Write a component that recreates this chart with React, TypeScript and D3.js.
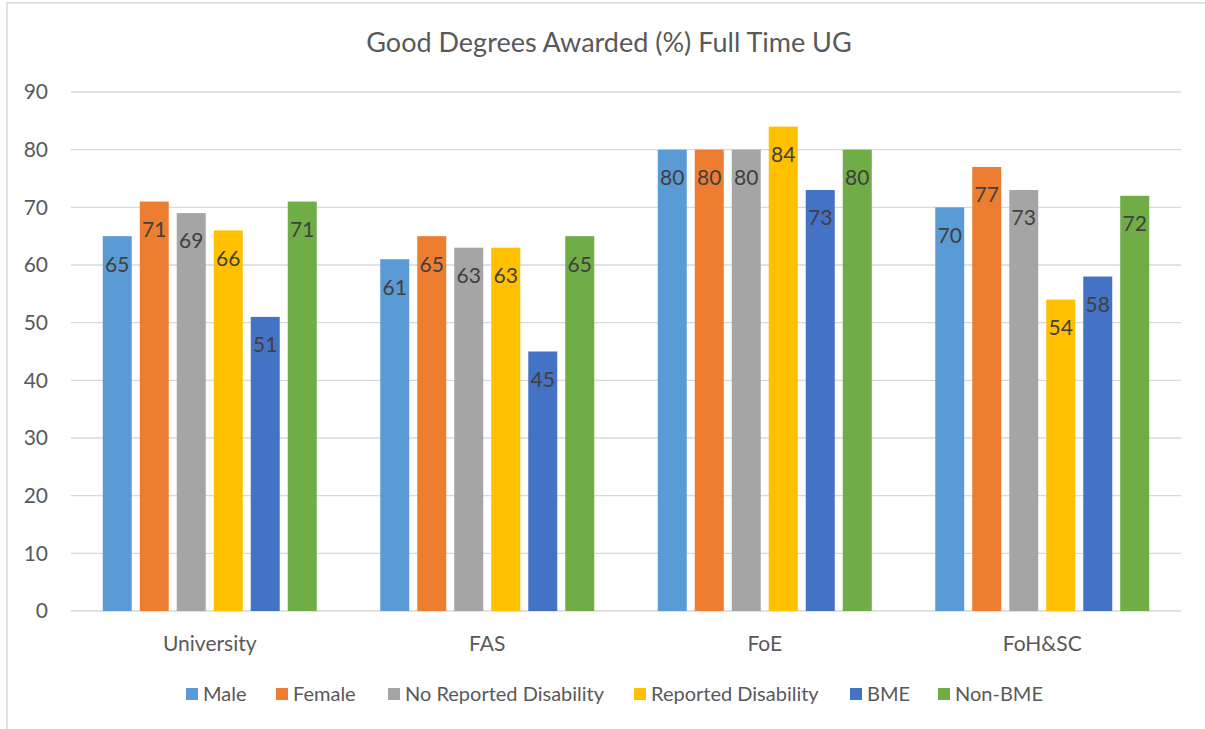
import React from "react";
import * as d3 from "d3";

const categories = ["University", "FAS", "FoE", "FoH&SC"];
const seriesNames = ["Male", "Female", "No Reported Disability", "Reported Disability", "BME", "Non-BME"];
const seriesColors = ["#5B9BD5", "#ED7D31", "#A5A5A5", "#FFC000", "#4472C4", "#70AD47"];
const maleValues = [65, 61, 80, 70];
const femaleValues = [71, 65, 80, 77];
const noDisabilityValues = [69, 63, 80, 73];
const disabilityValues = [66, 63, 84, 54];
const bmeValues = [51, 45, 73, 58];
const nonBmeValues = [71, 65, 80, 72];
const yTicks = [0, 10, 20, 30, 40, 50, 60, 70, 80, 90];
const legendX = [186, 276, 388, 634, 850, 938];

const allValues = [maleValues, femaleValues, noDisabilityValues, disabilityValues, bmeValues, nonBmeValues];

const FONT = "Lato, 'Open Sans', sans-serif";

const App = () => {
  const width = 1205;
  const height = 729;
  const plot = { left: 71, right: 1181, top: 92, bottom: 611 };

  const x0 = d3.scaleBand().domain(categories).range([plot.left, plot.right]).padding(0);
  const bw = x0.bandwidth();
  const outer = (bw - 214) / 2;
  const x1 = d3
    .scaleBand()
    .domain(seriesNames)
    .range([outer, bw - outer])
    .paddingInner(8 / 37)
    .paddingOuter(0);
  const y = d3.scaleLinear().domain([0, 90]).range([plot.bottom, plot.top]);

  return (
    <svg
      width={width}
      height={height}
      style={{ position: "absolute", left: 0, top: 0, background: "#fff" }}
    >
      <rect x={7} y={3} width={width} height={height} fill="#fff" stroke="#d9d9d9" strokeWidth={1.5} />
      <text
        x={609}
        y={52}
        textAnchor="middle"
        fontFamily={FONT}
        fontSize={27}
        fill="#595959"
      >
        Good Degrees Awarded (%) Full Time UG
      </text>

      {yTicks.map((t) => (
        <g key={t}>
          <line x1={plot.left} x2={plot.right} y1={y(t)} y2={y(t)} stroke="#d9d9d9" strokeWidth={1.3} />
          <text
            x={48}
            y={y(t)}
            dy="0.35em"
            textAnchor="end"
            fontFamily={FONT}
            fontSize={21}
            fill="#595959"
          >
            {t}
          </text>
        </g>
      ))}

      {categories.map((c, ci) => (
        <g key={c} transform={`translate(${x0(c)},0)`}>
          {seriesNames.map((s, si) => {
            const v = allValues[si][ci];
            const bx = x1(s) as number;
            return (
              <g key={s}>
                <rect
                  x={bx}
                  y={y(v)}
                  width={x1.bandwidth()}
                  height={y(0) - y(v)}
                  fill={seriesColors[si]}
                />
                <text
                  x={bx + x1.bandwidth() / 2}
                  y={y(v) + 28}
                  dy="0.35em"
                  textAnchor="middle"
                  fontFamily={FONT}
                  fontSize={21}
                  fill="#404040"
                >
                  {v}
                </text>
              </g>
            );
          })}
          <text
            x={bw / 2}
            y={644}
            dy="0.35em"
            textAnchor="middle"
            fontFamily={FONT}
            fontSize={21}
            fill="#595959"
          >
            {c}
          </text>
        </g>
      ))}

      {seriesNames.map((s, si) => (
        <g key={s} transform={`translate(${legendX[si]},694)`}>
          <rect x={0} y={-6} width={12} height={12} fill={seriesColors[si]} />
          <text x={17} y={0} dy="0.35em" fontFamily={FONT} fontSize={20} fill="#595959">
            {s}
          </text>
        </g>
      ))}
    </svg>
  );
};

export default App;
